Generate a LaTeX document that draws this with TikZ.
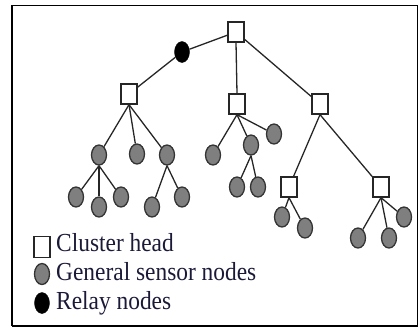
\documentclass[tikz,border=0pt]{standalone}
\usepackage{fontspec}
\setmainfont[FakeStretch=0.9]{Liberation Serif}
\usetikzlibrary{shapes.geometric}
\definecolor{nodegray}{HTML}{7F7F7F}
\definecolor{txt}{HTML}{1A1A38}
\begin{document}
\begin{tikzpicture}[x=1pt,y=-1pt,
  ch/.style={rectangle,draw=black!85,fill=white,minimum width=16pt,minimum height=20pt,inner sep=0pt,line width=1.3pt},
  gs/.style={ellipse,draw=black!80,fill=nodegray,minimum width=15pt,minimum height=20pt,inner sep=0pt,line width=1.3pt},
  rl/.style={ellipse,draw=black,fill=black,minimum width=15pt,minimum height=21pt,inner sep=0pt},
  edge/.style={draw=black!85,line width=1.3pt},
  lbl/.style={anchor=base west,inner sep=0pt,text=txt,font=\fontsize{26}{30}\selectfont},
  frame/.style={line width=1.2pt}]
\useasboundingbox (0,0) rectangle (419,327);
% frame
\coordinate (f1) at (12,5.5);
\coordinate (f2) at (417.5,5.5);
\coordinate (f3) at (417.5,326);
\coordinate (f4) at (12,326);
\draw[frame] (f4) -- (f1) -- (f2) -- (f3) -- (f4);
% tree nodes
\node[ch] (t) at (236,32) {};
\node[rl] (r) at (182,52) {};
\node[ch] (a) at (129,94) {};
\node[ch] (b) at (237,104) {};
\node[ch] (c) at (320,104) {};
\node[gs] (a1) at (99,155) {};
\node[gs] (a2) at (137,154) {};
\node[gs] (a3) at (167,155) {};
\node[gs] (a11) at (76,197) {};
\node[gs] (a12) at (99,207) {};
\node[gs] (a13) at (121,197) {};
\node[gs] (a31) at (152,207) {};
\node[gs] (a32) at (182,197) {};
\node[gs] (b1) at (213,155) {};
\node[gs] (b2) at (251,145) {};
\node[gs] (b3) at (274,134) {};
\node[gs] (b21) at (237,187) {};
\node[gs] (b22) at (258,187) {};
\node[ch] (c1) at (289,187) {};
\node[ch] (c2) at (381,187) {};
\node[gs] (c11) at (282,217) {};
\node[gs] (c12) at (305,228) {};
\node[gs] (c21) at (358,238) {};
\node[gs] (c22) at (389,238) {};
\node[gs] (c23) at (404,217) {};
% edges
\draw[edge] (t) -- (r);
\draw[edge] (r) -- (a);
\draw[edge] (t.south) -- (b.north);
\draw[edge] (t) -- (c);
\foreach \ch in {a1,a2,a3} \draw[edge] (a.south) -- (\ch);
\foreach \ch in {a11,a12,a13} \draw[edge] (a1.south) -- (\ch);
\foreach \ch in {a31,a32} \draw[edge] (a3.south) -- (\ch);
\foreach \ch in {b1,b2,b3} \draw[edge] (b.south) -- (\ch);
\foreach \ch in {b21,b22} \draw[edge] (b2.south) -- (\ch);
\foreach \ch in {c1,c2} \draw[edge] (c.south) -- (\ch);
\foreach \ch in {c11,c12} \draw[edge] (c1.south) -- (\ch);
\foreach \ch in {c21,c22,c23} \draw[edge] (c2.south) -- (\ch);
% legend
\node[ch,minimum height=21pt] (lch) at (42,247) {};
\node[gs,minimum height=21pt] (lgs) at (42,274) {};
\node[rl] (lrl) at (42,303) {};
\node[lbl] (tch) at (56,251) {Cluster head};
\node[lbl] (tgs) at (56,280) {General sensor nodes};
\node[lbl] (trl) at (56,309) {Relay nodes};
\end{tikzpicture}
\end{document}
